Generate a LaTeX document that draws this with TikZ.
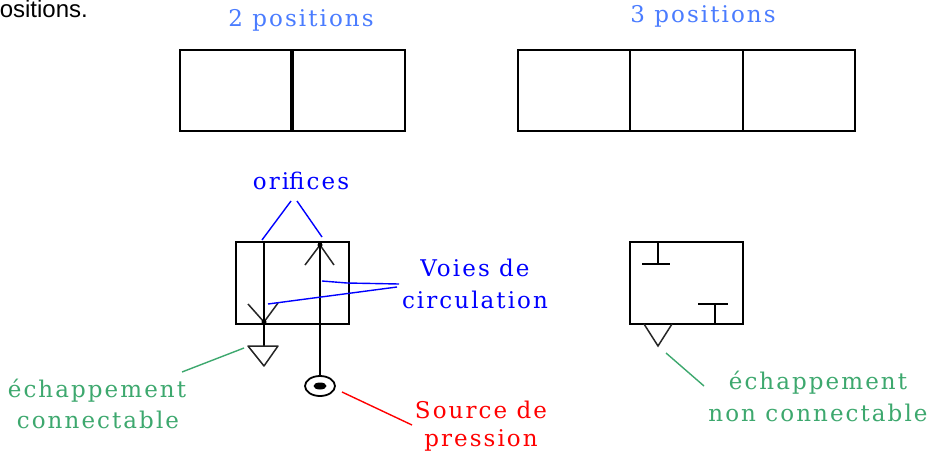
\documentclass[tikz,border=0pt]{standalone}
\usepackage{fontspec}
\usetikzlibrary{shapes.geometric}
\setmainfont{Liberation Serif}
\newfontfamily\lbl[LetterSpace=9]{DejaVu Serif}
\newfontfamily\arial{Liberation Sans}
\definecolor{lightblue}{HTML}{4A7CFF}
\definecolor{vgreen}{HTML}{3DA86E}
\tikzset{
  x=1pt,y=-1pt,
  symb/.style={draw=black,line width=1.8pt},
  thin symb/.style={draw=black!85,line width=1.5pt},
  lab/.style={inner sep=0pt,font=\fontsize{23}{26}\selectfont\lbl,anchor=center},
  lead/.style={line width=1.4pt}
}
\begin{document}
\begin{tikzpicture}
\useasboundingbox (0,0) rectangle (931,455);
\clip (0,0) rectangle (931,455);
\fill[white] (0,0) rectangle (931,455);
\node[inner sep=0pt,anchor=base east,font=\fontsize{24}{26}\selectfont\arial] (caption) at (88,17) {positions.};
% top boxes
\node[lab,text=lightblue] (t2) at (301,20) {2 positions};
\node[lab,text=lightblue] (t3) at (703,16) {3 positions};
\node[symb,minimum width=225pt,minimum height=81pt,inner sep=0pt] (two) at (292.5,90.5) {};
\draw[black,line width=4pt] ([xshift=-1pt]two.north) -- ([xshift=-1pt]two.south);
\node[symb,minimum width=337pt,minimum height=81pt,inner sep=0pt] (three) at (686.5,90.5) {};
\coordinate (c1t) at (630,50); \coordinate (c1b) at (630,131);
\coordinate (c2t) at (743,50); \coordinate (c2b) at (743,131);
\draw[symb] (c1t) -- (c1b) (c2t) -- (c2b);
% left valve
\node[symb,minimum width=113pt,minimum height=82pt,inner sep=0pt] (va) at (292.5,283) {};
\coordinate (atop) at (264,242); \coordinate (atip) at (264,322);
\coordinate (btip) at (320,245);
\coordinate (tl) at (248,346); \coordinate (tr) at (278,346); \coordinate (tb) at (264,366);
\node[symb,ellipse,inner sep=0pt,minimum width=30pt,minimum height=20pt] (src) at (320,386) {};
\draw[symb] (atop) -- (264,346);
\draw[symb] (btip) -- (src.north);
\draw[thin symb] (248,304) -- (atip) -- (278,303);
\draw[thin symb] (305,265) -- (btip) -- (334,265);
\draw[thin symb,line join=round] (tl) -- (tr) -- (tb) -- cycle;
\fill[black] (atip) circle (2.5pt) (btip) circle (2.5pt);
\fill[black] (src.center) ellipse (6.5pt and 3.5pt);
% right valve
\node[symb,minimum width=113pt,minimum height=82pt,inner sep=0pt] (vb) at (686.5,283) {};
\draw[symb] (658,242) -- (658,264);
\draw[symb] (642,264) -- (670,264);
\draw[symb] (715,324) -- (715,304);
\draw[symb] (698,304) -- (728,304);
\draw[thin symb] (644,324) -- (658,346) -- (672,324);
% labels
\node[lab,text=blue] (ori) at (301,181) {ori\kern0pt fices};
\node[lab,text=blue] (voies) at (475,268) {Voies de};
\node[lab,text=blue] (circ) at (475,300) {circulation};
\node[lab,text=red] (sour) at (481,410) {Source de};
\node[lab,text=red] (pres) at (481,440) {pression};
\node[lab,text=vgreen] (ech1) at (97,391) {échappement};
\node[lab,text=vgreen] (con1) at (98,420) {connectable};
\node[lab,text=vgreen] (ech2) at (818,383) {échappement};
\node[lab,text=vgreen] (con2) at (818,413) {non connectable};
% leaders
\coordinate (oa) at (291,201); \coordinate (ob) at (297,201);
\draw[lead,blue] (oa) -- (262,240);
\draw[lead,blue] (ob) -- (322,237);
\coordinate (va1) at (399,284); \coordinate (va2) at (397,287);
\draw[lead,blue] (va1) -- (347,283) -- (322,281);
\draw[lead,blue] (va2) -- (268,304);
\draw[lead,vgreen] (182,372) -- (244,348);
\draw[lead,red] (342,392) -- (412,425);
\draw[lead,vgreen] (666,353) -- (704,386);
\end{tikzpicture}
\end{document}
